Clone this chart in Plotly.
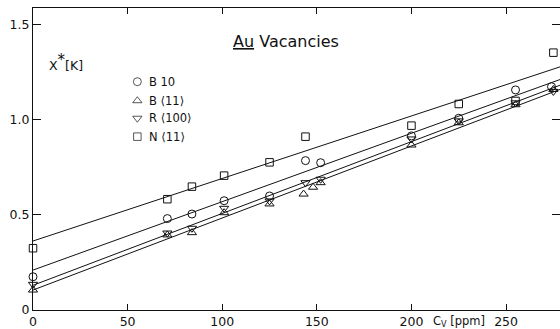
import plotly.graph_objects as go

# ---- data ----
n_x = [0, 71, 84, 101, 125, 144, 200, 225, 255, 275]
n_y = [0.325, 0.583, 0.649, 0.707, 0.777, 0.912, 0.97, 1.084, 1.10, 1.354]

b10_x = [0, 71, 84, 101, 125, 144, 152, 200, 225, 255, 274]
b10_y = [0.175, 0.481, 0.505, 0.575, 0.60, 0.786, 0.775, 0.916, 1.009, 1.158, 1.175]

r100_x = [0, 71, 84, 101, 125, 144, 152, 200, 225, 255, 275]
r100_y = [0.135, 0.405, 0.43, 0.535, 0.574, 0.67, 0.688, 0.90, 0.995, 1.09, 1.15]

b11_x = [0, 71, 84, 101, 125, 143, 148, 152, 200, 225, 255, 275]
b11_y = [0.105, 0.395, 0.407, 0.512, 0.558, 0.61, 0.646, 0.67, 0.868, 0.985, 1.08, 1.16]

# fitted straight lines: (intercept, slope)
fit_names = ["N", "B10", "R", "B11"]
fit_intercepts = [0.363, 0.21, 0.13, 0.105]
fit_slopes = [0.00329, 0.00360, 0.00378, 0.00379]
fit_x = [0, 290]

legend_labels = ["B 10", "B \u27e811\u27e9", "R \u27e8100\u27e9", "N \u27e811\u27e9"]
legend_symbols = ["circle-open", "triangle-up-open", "triangle-down-open", "square-open"]

x_ticks = [0, 50, 100, 150, 200, 250]
y_ticks = [0, 0.5, 1.0, 1.5]
y_ticktext = ["0", "0.5", "1.0", "1.5"]

FONT = "DejaVu Sans"
INK = "#111111"

fig = go.Figure()

# fit lines
for b, m in zip(fit_intercepts, fit_slopes):
    fig.add_trace(go.Scatter(x=fit_x, y=[b + m * xx for xx in fit_x], mode="lines",
                             line=dict(color=INK, width=1), showlegend=False,
                             hoverinfo="skip"))

series = [(b10_x, b10_y, legend_symbols[0], 8),
          (b11_x, b11_y, legend_symbols[1], 8),
          (r100_x, r100_y, legend_symbols[2], 8),
          (n_x, n_y, legend_symbols[3], 7.5)]
for (xs, ys, sym, sz) in series:
    fig.add_trace(go.Scatter(x=xs, y=ys, mode="markers", cliponaxis=False,
                             marker=dict(symbol=sym, size=sz, color=INK,
                                         line=dict(color=INK, width=1)),
                             showlegend=False))

# hand-drawn style legend (on an overlay axis spanning the plot area)
leg_x = 0.198
leg_y = [0.756, 0.693, 0.635, 0.574]
fig.add_trace(go.Scatter(x=[leg_x] * 4, y=leg_y, mode="markers", xaxis="x2", yaxis="y2",
                         cliponaxis=False,
                         marker=dict(symbol=legend_symbols, size=[8, 8, 8, 7.5], color=INK,
                                     line=dict(color=INK, width=1)),
                         showlegend=False, hoverinfo="skip"))

annotations = []
for lab, yy in zip(legend_labels, leg_y):
    annotations.append(dict(text=lab, x=0.216, y=yy, xref="paper", yref="paper",
                            xanchor="left", yanchor="middle", showarrow=False,
                            font=dict(family=FONT, size=11.5, color=INK)))

annotations.append(dict(text="<u>Au</u> Vacancies", x=0.481, y=0.888, xref="paper", yref="paper",
                        xanchor="center", yanchor="middle", showarrow=False,
                        font=dict(family=FONT, size=16, color=INK)))
annotations.append(dict(text="X<sup><span style='font-size:15px'>*</span></sup>[K]",
                        x=0.026, y=0.82, xref="paper", yref="paper",
                        xanchor="left", yanchor="middle", showarrow=False,
                        font=dict(family=FONT, size=12.5, color=INK)))
annotations.append(dict(text="C<sub>V</sub> [ppm]", x=0.755, y=-0.037, xref="paper", yref="paper",
                        xanchor="left", yanchor="middle", showarrow=False,
                        font=dict(family=FONT, size=11.5, color=INK)))

fig.update_layout(
    template="none",
    width=560, height=329,
    margin=dict(l=33, r=0, t=8, b=19, pad=0),
    paper_bgcolor="white", plot_bgcolor="white",
    showlegend=False,
    font=dict(family=FONT, size=12.5, color=INK),
    xaxis=dict(range=[0, 278.5], tickvals=x_ticks, ticktext=[str(v) for v in x_ticks],
               ticks="inside", ticklen=6, tickwidth=1, tickcolor=INK,
               showline=True, linecolor=INK, linewidth=1, mirror="ticks",
               showgrid=False, zeroline=False, automargin=False,
               tickfont=dict(family=FONT, size=12.5, color=INK)),
    yaxis=dict(range=[0, 1.589], tickvals=y_ticks, ticktext=y_ticktext,
               ticks="inside", ticklen=8, tickwidth=1, tickcolor=INK,
               showline=True, linecolor=INK, linewidth=1, mirror="ticks",
               showgrid=False, zeroline=False, automargin=False,
               tickfont=dict(family=FONT, size=12.5, color=INK)),
    xaxis2=dict(overlaying="x", range=[0, 1], visible=False),
    yaxis2=dict(overlaying="y", range=[0, 1], visible=False),
    annotations=annotations,
)

fig.write_html("out.html")
